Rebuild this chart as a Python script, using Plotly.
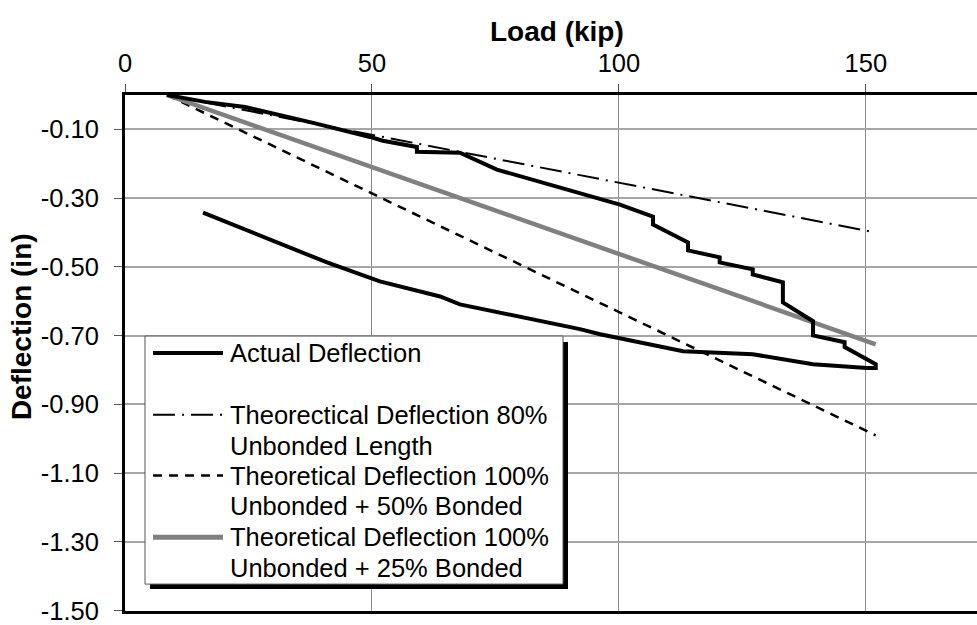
import plotly.graph_objects as go

# Measured load-deflection response (loading branch, then unloading branch)
actual_load = [8.5, 16.2, 24.3, 30.4, 38.1, 49.6, 52.2, 59.1, 59.1, 67.8, 75.3,
               100.2, 106.9, 106.9, 114.0, 114.0, 120.4, 120.4, 127.1, 127.1,
               133.2, 133.2, 139.3, 139.3, 145.7, 145.7, 152.0, 152.0,
               150.2, 139.3, 127.1, 113.0, 96.2, 92.1, 67.8, 63.8, 51.6, 40.9, 15.8]
actual_defl = [0.000, -0.020, -0.035, -0.055, -0.081, -0.122, -0.133, -0.151, -0.165,
               -0.168, -0.217, -0.319, -0.354, -0.377, -0.429, -0.452, -0.472, -0.487,
               -0.507, -0.522, -0.545, -0.603, -0.658, -0.699, -0.719, -0.733, -0.783,
               -0.794, -0.794, -0.783, -0.754, -0.745, -0.696, -0.681, -0.609, -0.586,
               -0.542, -0.487, -0.342]

# Theoretical predictions (linear)
theory_load = [8.5, 152.0]
theory_80_unbonded = [0.0, -0.40]
theory_100_50_bonded = [0.0, -0.99]
theory_100_25_bonded = [0.0, -0.725]

x_ticks = [0, 50, 100, 150]
y_ticks = [-0.10, -0.30, -0.50, -0.70, -0.90, -1.10, -1.30, -1.50]

legend_lines = [
    "Actual Deflection",
    "Theorectical Deflection 80%",
    "Unbonded Length",
    "Theoretical Deflection 100%",
    "Unbonded + 50% Bonded",
    "Theoretical Deflection 100%",
    "Unbonded + 25% Bonded",
]

FONT = "Liberation Sans, Arial, sans-serif"
W, H = 977, 625
ML, MR, MT, MB = 125, 0, 95, 12
PW, PH = W - ML - MR, H - MT - MB


def px(x):
    return (x - ML) / PW


def py(y):
    return (H - MB - y) / PH


fig = go.Figure()

fig.add_trace(go.Scatter(x=theory_load, y=theory_80_unbonded, mode="lines",
                         line=dict(color="black", width=2, dash="22px,7px,2px,7px"),
                         name=legend_lines[1] + " " + legend_lines[2]))
fig.add_trace(go.Scatter(x=theory_load, y=theory_100_50_bonded, mode="lines",
                         line=dict(color="black", width=2.5, dash="9px,7px"),
                         name=legend_lines[3] + " " + legend_lines[4]))
fig.add_trace(go.Scatter(x=theory_load, y=theory_100_25_bonded, mode="lines",
                         line=dict(color="#808080", width=4.5),
                         name=legend_lines[5] + " " + legend_lines[6]))
fig.add_trace(go.Scatter(x=actual_load, y=actual_defl, mode="lines",
                         line=dict(color="black", width=4),
                         name=legend_lines[0]))

# Legend box with drop shadow
shapes = [
    dict(type="rect", xref="paper", yref="paper", x0=px(150), x1=px(568),
         y0=py(591), y1=py(343), fillcolor="black", line=dict(width=0), layer="above"),
    dict(type="rect", xref="paper", yref="paper", x0=px(145), x1=px(563),
         y0=py(586), y1=py(337), fillcolor="white",
         line=dict(color="#555555", width=1), layer="above"),
]
samples = [
    (354, dict(color="black", width=4)),
    (416, dict(color="black", width=2, dash="22px,7px,2px,7px")),
    (477, dict(color="black", width=2.5, dash="9px,7px")),
    (539, dict(color="#808080", width=5)),
]
for yy, ln in samples:
    shapes.append(dict(type="line", xref="paper", yref="paper", x0=px(153), x1=px(223),
                       y0=py(yy), y1=py(yy), line=ln, layer="above"))

annotations = [
    dict(text="<b>Load (kip)</b>", xref="paper", yref="paper", x=px(557), y=py(31),
         xanchor="center", yanchor="middle", showarrow=False,
         font=dict(family=FONT, size=28, color="black")),
    dict(text="<b>Deflection (in)</b>", xref="paper", yref="paper", x=px(21), y=py(328),
         xanchor="center", yanchor="middle", showarrow=False, textangle=-90,
         font=dict(family=FONT, size=28, color="black")),
]
for txt, yy in zip(legend_lines, [354, 416, 447, 477, 508, 539, 570]):
    annotations.append(dict(text=txt, xref="paper", yref="paper", x=px(228), y=py(yy),
                            xanchor="left", yanchor="middle", showarrow=False,
                            font=dict(family=FONT, size=25.5, color="black")))

fig.update_layout(
    width=W, height=H,
    margin=dict(l=ML, r=MR, t=MT, b=MB),
    paper_bgcolor="white", plot_bgcolor="white",
    showlegend=False,
    font=dict(family=FONT, size=25, color="black"),
    shapes=shapes,
    annotations=annotations,
    xaxis=dict(
        side="top", range=[0, 172.5], tickvals=x_ticks, ticktext=[str(v) for v in x_ticks],
        showgrid=True, gridcolor="#8a8a8a", gridwidth=1,
        showline=True, linecolor="black", linewidth=3, mirror=True,
        ticks="outside", ticklen=8, tickcolor="#555555", tickwidth=1,
        ticklabelstandoff=2, zeroline=False, ticklabeloverflow="allow",
        tickfont=dict(family=FONT, size=25.5, color="black"),
    ),
    yaxis=dict(
        range=[-1.5008, 0], tickvals=y_ticks, ticktext=[f"{v:.2f}" for v in y_ticks],
        showgrid=True, gridcolor="#a6a6a6", gridwidth=1.5,
        showline=True, linecolor="black", linewidth=3,
        ticks="outside", ticklen=8, tickcolor="#555555", tickwidth=1,
        ticklabelstandoff=10, zeroline=False, ticklabeloverflow="allow",
        tickfont=dict(family=FONT, size=25.5, color="black"),
    ),
)

fig.write_html("out.html")
